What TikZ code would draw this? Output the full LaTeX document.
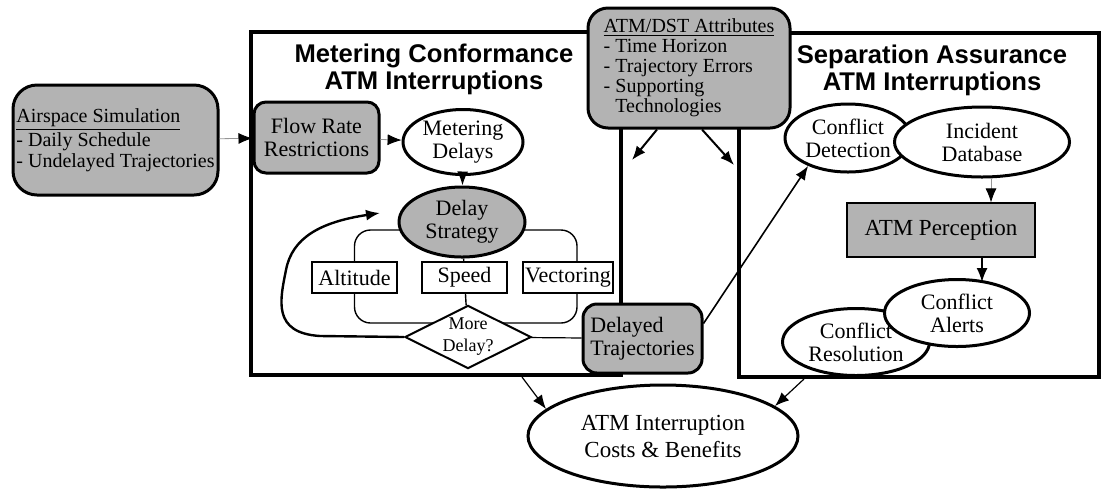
\documentclass[tikz,border=0pt]{standalone}
\usepackage{fontspec}
\setmainfont{Liberation Serif}
\setsansfont{Liberation Sans}
\usetikzlibrary{shapes.geometric,arrows.meta,calc,backgrounds}
\definecolor{boxgray}{RGB}{179,179,179}
\definecolor{linegray}{RGB}{150,150,150}

\begin{document}
\begin{tikzpicture}[
  x=0.5pt, y=-0.5pt,
  every node/.style={font=\fontsize{11}{11.5}\selectfont, align=center, inner sep=1pt},
  frame/.style={draw, line width=2pt, rectangle},
  title/.style={font=\sffamily\bfseries\fontsize{12.8}{13.5}\selectfont},
  grayblock/.style={draw, line width=1.5pt, fill=boxgray, rounded corners=6pt},
  bubble/.style={ellipse, draw, line width=1.5pt, fill=white, inner sep=0pt},
  option/.style={draw, line width=0.8pt, fill=white, minimum width=42.5pt, minimum height=15.5pt},
  arr/.style={-{Latex[length=7pt,width=5.5pt]}},
  thinarr/.style={-{Latex[length=7pt,width=5.5pt,color=black]}, draw=linegray, line width=0.4pt},
  bracket/.style={draw, line width=0.7pt}
  ]
  \useasboundingbox (0,0) rectangle (1101,489);

  % the two interruption frames
  \node[frame, minimum width=185pt, minimum height=171.5pt] (metbox) at (436,203.5) {};
  \node[frame, minimum width=180pt, minimum height=172pt] (sepbox) at (919,205) {};
  \node[title] (mettitle) at (434,69) {Metering Conformance\\ATM Interruptions};
  \node[title] (septitle) at (932,70) {Separation Assurance\\ATM Interruptions};

  % inputs
  \node[grayblock, rounded corners=12pt, minimum width=102.5pt, minimum height=55pt,
        align=left, font=\fontsize{10}{10.5}\selectfont] (airsim) at (115.5,140)
        {\underline{Airspace Simulation}\\- Daily Schedule\\- Undelayed Trajectories};
  \node[grayblock, rounded corners=10pt, minimum width=101pt, minimum height=60pt,
        align=left, font=\fontsize{10}{10}\selectfont] (dst) at (689,68)
        {\underline{ATM/DST Attributes}\\- Time Horizon\\- Trajectory Errors\\- Supporting\\\hspace{0.58em}Technologies};

  % metering conformance
  \node[grayblock, minimum width=62.5pt, minimum height=35.5pt] (flow) at (316.5,137.5) {Flow Rate\\Restrictions};
  \node[bubble, minimum width=60pt, minimum height=32.5pt] (metdel) at (463,142) {Metering\\Delays};
  \node[bubble, fill=boxgray, minimum width=63pt, minimum height=35pt] (strat) at (462,222) {Delay\\Strategy};
  \node[option] (alt) at (354.5,277.5) {Altitude};
  \node[option] (speed) at (464.5,277.5) {Speed};
  \node[option, minimum width=45pt] (vect) at (568,277.5) {Vectoring};
  \node[diamond, draw, line width=1pt, fill=white, aspect=2, minimum width=61.5pt, minimum height=30.5pt,
        inner sep=0pt, font=\fontsize{9}{11}\selectfont] (more) at (468,337) {More\\Delay?};
  \node[grayblock, rounded corners=7pt, minimum width=59.5pt, minimum height=34.5pt, align=left] (deltraj) at (642.5,338.5) {Delayed\\Trajectories};

  % separation assurance
  \node[bubble, minimum width=63pt, minimum height=34pt] (condet) at (848,138) {Conflict\\Detection};
  \node[bubble, minimum width=87.5pt, minimum height=35pt] (incdb) at (982,142) {Incident\\Database};
  \node[draw, line width=0.6pt, fill=boxgray, minimum width=94pt, minimum height=27pt,
        font=\fontsize{11.5}{12}\selectfont] (perc) at (941,230) {ATM Perception};
  \node[bubble, minimum width=73.5pt, minimum height=33.5pt] (resol) at (856,342) {Conflict\\Resolution};
  \node[bubble, minimum width=72.5pt, minimum height=33.5pt] (alerts) at (957,313) {Conflict\\Alerts};

  % result
  \node[bubble, minimum width=135pt, minimum height=51pt, font=\fontsize{11.5}{13.5}\selectfont] (costs) at (663,436)
        {ATM Interruption\\Costs \& Benefits};

  \coordinate (loopend) at (380,213);
  \coordinate (metedge) at (632,160);
  \coordinate (sepedge) at (734,165);

  % connectors
  \draw[thinarr] (airsim) -- (flow);
  \draw[thinarr] (flow) -- (metdel);
  \draw[arr, line width=1pt] (metdel) -- (strat);
  \draw[arr, line width=1.2pt] (more.west) -- (320,336) .. controls (272,333) and (280,300) .. (286,270)
        .. controls (292,238) and (320,222) .. (loopend);
  \draw[line width=0.6pt] (more) -- (deltraj);
  \draw[arr, line width=0.8pt] ($(deltraj.east)+(0,-15)$) -- (condet.215);
  \draw[arr, line width=1pt] ($(dst.south)+(-32,0)$) -- (metedge);
  \draw[arr, line width=1pt] ($(dst.south)+(13,0)$) -- (sepedge);
  \draw[thinarr] ($(incdb.south)+(9,0)$) -- ($(perc.north)+(50,0)$);
  \draw[arr, line width=0.8pt] ($(perc.south)+(41,0)$) -- ($(alerts.north)+(25,4)$);
  \draw[arr, line width=0.6pt] ($(metbox.south)+(86,0)$) -- (costs.167);
  \draw[arr, line width=0.6pt] ($(sepbox.south)+(-115,0)$) -- (costs.15);

  \begin{scope}[on background layer]
    \draw[bracket, rounded corners=8pt] ($(strat.center)+(0,8)$) -| (alt.center) |- ($(more.center)+(0,-14)$);
    \draw[bracket, rounded corners=8pt] ($(strat.center)+(0,8)$) -| ($(vect.center)+(9,0)$) |- ($(more.center)+(0,-14)$);
    \draw[bracket] (strat) -- (speed) -- (more);
  \end{scope}
\end{tikzpicture}
\end{document}
